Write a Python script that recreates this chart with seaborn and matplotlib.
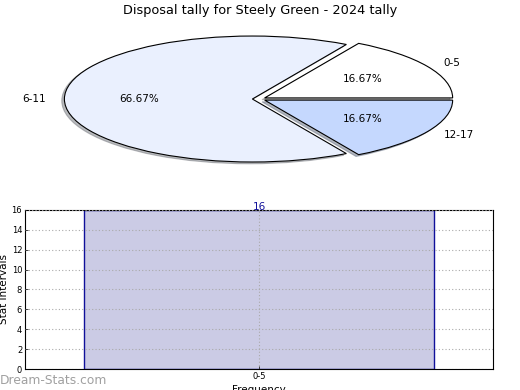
import matplotlib
matplotlib.use('Agg')
import matplotlib.pyplot as plt
import seaborn as sns
import pandas as pd

# Data
pie_labels = ['0-5', '6-11', '12-17']
pie_values = [1, 4, 1]
pie_colors = ['#ffffff', '#eaf0fe', '#c5d8fe']

bar_labels = ['0-5']
bar_values = [16]

title = 'Disposal tally for Steely Green - 2024 tally'

sns.set_style('ticks')
plt.rcParams['font.family'] = ['DejaVu Sans']
plt.rcParams['text.color'] = 'black'
plt.rcParams['xtick.color'] = 'black'
plt.rcParams['ytick.color'] = 'black'
plt.rcParams['axes.labelcolor'] = 'black'

fig = plt.figure(figsize=(5.2, 3.9), dpi=100)

# Pie chart (squashed ellipse)
ax1 = fig.add_axes([0.1365, 0.5846, 0.723, 0.323])
wedges, texts, autotexts = ax1.pie(pie_values, labels=pie_labels, colors=pie_colors,
                                   explode=[0.035, 0.035, 0.035], autopct='%.2f%%',
                                   startangle=0, counterclock=True,
                                   shadow={'ox': -0.01, 'oy': -0.02, 'shade': 0.5},
                                   wedgeprops=dict(edgecolor='black', linewidth=0.8),
                                   textprops=dict(fontsize=7.5, color='black'))
ax1.set_aspect('auto')
ax1.set_xlim(-1, 1)
ax1.set_ylim(-1, 1)
ax1.axis('off')
for w in wedges:
    w.set_clip_on(False)
for t in texts + autotexts:
    t.set_clip_on(False)
fig.text(0.5, 0.973, title, ha='center', va='center', fontsize=9.3)

# Bar chart
ax2 = fig.add_axes([0.048, 0.0538, 0.9, 0.408])
df = pd.DataFrame({'cat': bar_labels, 'val': bar_values})
sns.barplot(data=df, x='cat', y='val', color='#cbcbe5', saturation=1,
            edgecolor='#10109a', linewidth=1, width=0.8, ax=ax2)
ax2.set_xlim(-0.535, 0.535)
ax2.set_ylim(0, 16)
ax2.set_yticks(range(0, 17, 2))
ax2.tick_params(labelsize=6, length=2, width=0.5, direction='in', pad=2)
ax2.grid(True, linestyle=(0, (1, 2)), color='#aaaaaa', linewidth=0.8)
ax2.set_axisbelow(False)
for s in ax2.spines.values():
    s.set_visible(True)
    s.set_linewidth(0.8)
    s.set_color('black')
ax2.set_ylabel('Stat Intervals', fontsize=7.5, labelpad=2)
ax2.set_xlabel('Frequency', fontsize=7.5, labelpad=3)
for i, v in enumerate(bar_values):
    ax2.text(i, v + 0.3, str(v), ha='center', va='center', color='#10109a', fontsize=7.5)

fig.text(0.0, 0.025, 'Dream-Stats.com', ha='left', va='center', fontsize=8.8,
         color='#a0a0a0')

fig.savefig('out.png', dpi=100)
